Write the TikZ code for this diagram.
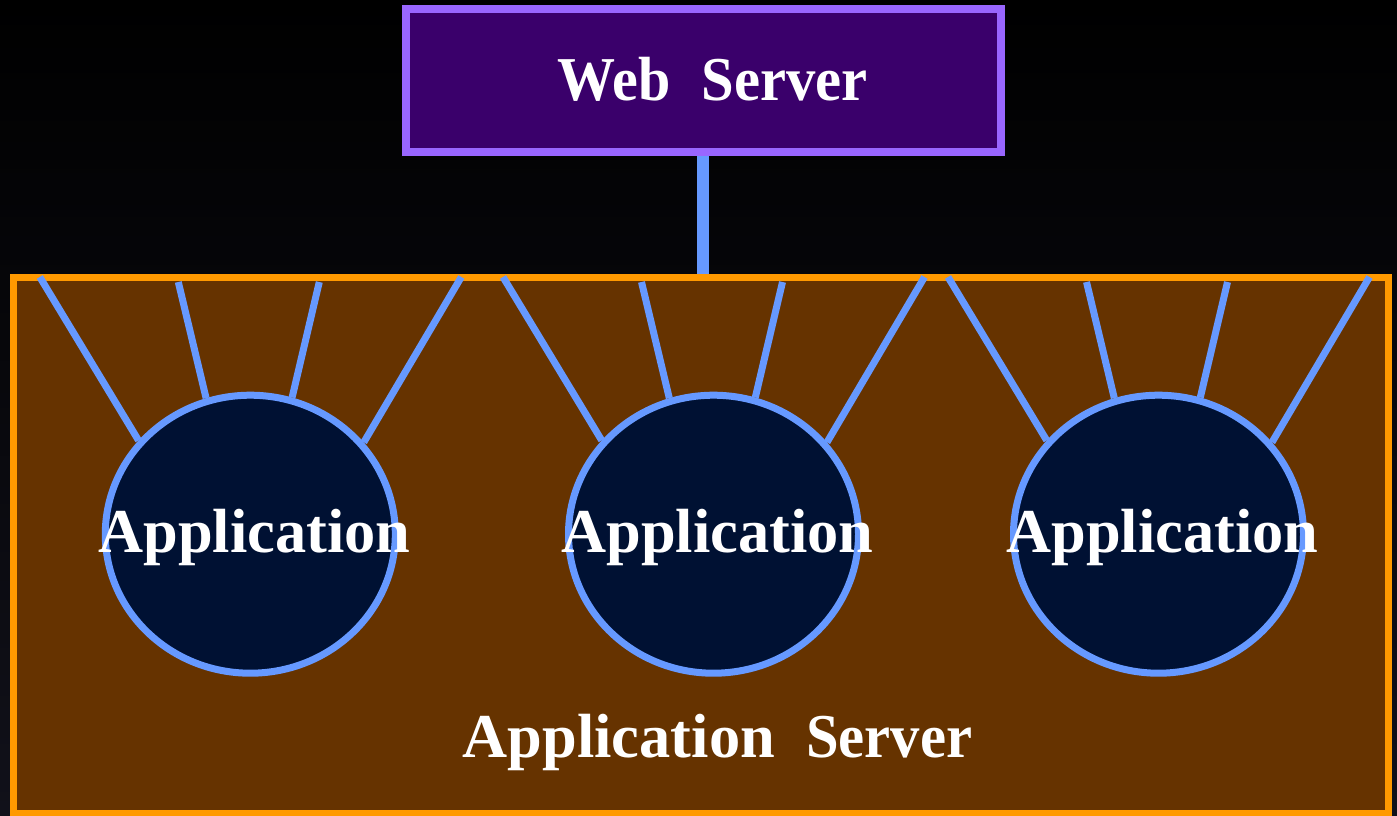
\documentclass[tikz,border=0pt]{standalone}
\usepackage{fontspec}
\setmainfont{Liberation Serif}
\usetikzlibrary{shapes.geometric}
\definecolor{wsfill}{RGB}{58,0,107}
\definecolor{wsline}{RGB}{153,102,255}
\definecolor{asfill}{RGB}{102,51,0}
\definecolor{asline}{RGB}{255,153,0}
\definecolor{linkc}{RGB}{102,153,255}
\definecolor{appfill}{RGB}{0,17,51}
\definecolor{bgbot}{RGB}{17,17,26}
\begin{document}
\begin{tikzpicture}[x=1pt,y=-1pt,
  lbl/.style={text=white,font=\fontsize{62.4}{72}\selectfont\bfseries,inner sep=0pt,anchor=base},
  wsbox/.style={rectangle,draw=wsline,fill=wsfill,line width=8pt,inner sep=0pt,minimum width=594.6pt,minimum height=142.5pt},
  asbox/.style={rectangle,draw=asline,fill=asfill,line width=7pt,inner sep=0pt,minimum width=1374.3pt,minimum height=536pt},
  appnode/.style={ellipse,draw=linkc,fill=appfill,line width=7pt,inner sep=0pt,minimum width=290pt,minimum height=278pt},
  linkline/.style={draw=linkc,line width=7pt},
  mainlink/.style={draw=linkc,line width=12pt}]
\useasboundingbox (0,0) rectangle (1397,816);
\shade[top color=black,bottom color=bgbot] (0,0) rectangle (1397,816);
\node[wsbox] (ws) at (703.3,80.25) {};
\node[asbox] (as) at (700.85,545) {};
\draw[mainlink] (ws.south) -- (ws.south |- as.north);
\foreach \i/\cx in {1/250.3,2/713.5,3/1158.5}{
  \node[appnode] (e\i) at (\cx,534.2) {};
  \coordinate (p\i a) at (\cx-210.5,277);
  \coordinate (p\i b) at (\cx-72,282);
  \coordinate (p\i c) at (\cx+69,282);
  \coordinate (p\i d) at (\cx+211,277);
  \draw[linkline] (p\i a) -- (e\i.140.3);
  \draw[linkline] (p\i b) -- (e\i.108.2);
  \draw[linkline] (p\i c) -- (e\i.73);
  \draw[linkline] (p\i d) -- (e\i.39.8);
  \node[lbl] (t\i) at (\cx+4,552) {Application};
}
\node[lbl] (wst) at (712.5,100) {\scalebox{0.93}[1]{Web}\hspace{0.5em}\scalebox{0.94}[1]{Server}};
\node[lbl] (ast) at (717.5,757) {Application\hspace{0.5em}\scalebox{0.94}[1]{Server}};
\end{tikzpicture}
\end{document}
